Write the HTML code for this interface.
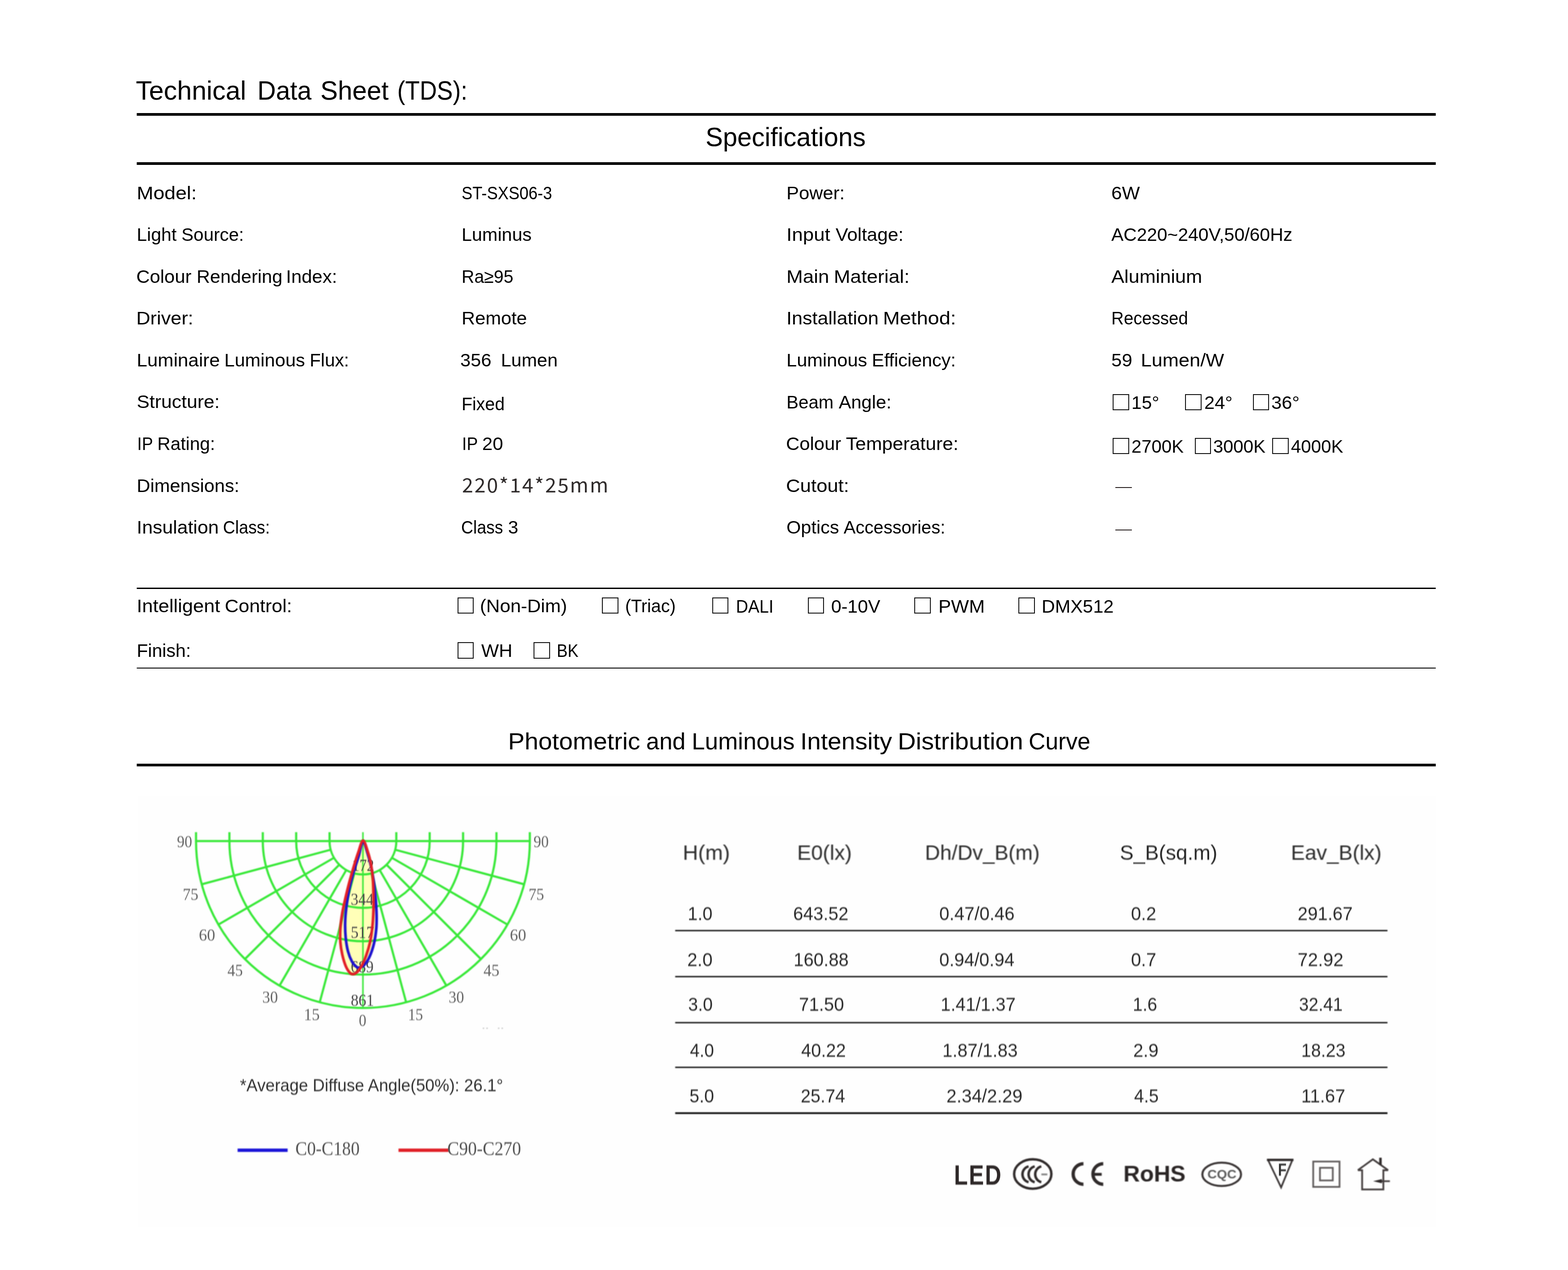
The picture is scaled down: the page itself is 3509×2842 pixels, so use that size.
<!DOCTYPE html>
<html lang="en"><head><meta charset="utf-8"><title>Technical Data Sheet (TDS)</title>
<style>
html,body{margin:0;padding:0;background:#fff;}
body{width:3509px;height:2842px;position:relative;overflow:hidden;font-family:"Liberation Sans",sans-serif;color:#000;}
.t{position:absolute;white-space:pre;line-height:1;transform-origin:0 0;margin:0;padding:0;}
.g{position:absolute;left:0;top:0;width:0;height:0;font-size:0;line-height:0;}
.s{font-family:"Liberation Serif",serif;}
.n{font-family:"Noto Sans CJK SC","Liberation Sans",sans-serif;}
.b{filter:blur(0.8px);}
.ln{position:absolute;background:#000;}
.cb{position:absolute;box-sizing:border-box;border:2.2px solid #111;}
#img{position:absolute;left:308px;top:1781px;width:2905px;height:964px;background:#fefefe;}
svg{position:absolute;left:0;top:0;}
</style></head><body>
<div id="img"></div>
<div class="ln" style="left:306.0px;top:253.0px;width:2907.0px;height:6.0px"></div>
<div class="ln" style="left:306.0px;top:363.0px;width:2907.0px;height:6.0px"></div>
<div class="ln" style="left:306.0px;top:1315.2px;width:2907.0px;height:2.6px"></div>
<div class="ln" style="left:306.0px;top:1493.7px;width:2907.0px;height:2.6px"></div>
<div class="ln" style="left:306.0px;top:1708.5px;width:2907.0px;height:6.0px"></div>
<div class="ln b" style="left:1511.3px;top:2080.6px;width:1593.5px;height:3.4px;background:#111"></div>
<div class="ln b" style="left:1511.3px;top:2183.6px;width:1593.5px;height:3.4px;background:#111"></div>
<div class="ln b" style="left:1511.3px;top:2286.6px;width:1593.5px;height:3.4px;background:#111"></div>
<div class="ln b" style="left:1511.3px;top:2386.8px;width:1593.5px;height:3.4px;background:#111"></div>
<div class="ln b" style="left:1511.3px;top:2489.4px;width:1593.5px;height:3.4px;background:#111"></div>
<div class="cb" style="left:2490.4px;top:882.4px;width:36.5px;height:35.4px"></div>
<div class="cb" style="left:2652.2px;top:882.4px;width:36.5px;height:35.4px"></div>
<div class="cb" style="left:2803.6px;top:882.4px;width:36.5px;height:35.4px"></div>
<div class="cb" style="left:2490.4px;top:979.9px;width:36.5px;height:35.7px"></div>
<div class="cb" style="left:2673.6px;top:979.9px;width:36.5px;height:35.7px"></div>
<div class="cb" style="left:2847.2px;top:979.9px;width:36.5px;height:35.7px"></div>
<div class="cb" style="left:1023.5px;top:1337.3px;width:36.5px;height:35.7px"></div>
<div class="cb" style="left:1347.0px;top:1337.3px;width:36.5px;height:35.7px"></div>
<div class="cb" style="left:1593.5px;top:1337.3px;width:36.5px;height:35.7px"></div>
<div class="cb" style="left:1807.5px;top:1337.3px;width:36.5px;height:35.7px"></div>
<div class="cb" style="left:2046.1px;top:1337.3px;width:36.5px;height:35.7px"></div>
<div class="cb" style="left:2279.2px;top:1337.3px;width:36.5px;height:35.7px"></div>
<div class="cb" style="left:1023.5px;top:1437.4px;width:36.5px;height:36.5px"></div>
<div class="cb" style="left:1194.0px;top:1437.4px;width:36.5px;height:36.5px"></div>
<div class="ln" style="left:2496.0px;top:1089.8px;width:37.2px;height:2.4px;background:#2a2222"></div>
<div class="ln" style="left:2496.0px;top:1185.1px;width:37.2px;height:2.4px;background:#2a2222"></div>
<svg width="2920" height="970" viewBox="300 1780 2920 970" style="left:300px;top:1780px;filter:blur(0.8px)">
<path d="M812.4,1880.9C808.8,1881.3 804.8,1899.1 801.5,1908.3C798.2,1917.5 795.8,1925.6 792.6,1936.2C789.5,1946.7 785.7,1959.8 782.5,1971.6C779.3,1983.5 776.4,1995.3 773.6,2007.1C770.9,2018.9 768.0,2030.8 766.0,2042.6C764.0,2054.4 762.4,2067.1 761.7,2078.1C761.0,2089.1 761.0,2098.8 761.7,2108.5C762.4,2118.2 764.0,2127.5 766.0,2136.4C768.0,2145.2 770.9,2155.0 773.6,2161.7C776.4,2168.4 779.8,2173.4 782.5,2176.4C785.2,2179.4 787.4,2180.1 790.1,2180.0C792.8,2179.8 795.8,2178.7 799.0,2175.6C802.1,2172.6 805.7,2167.8 809.1,2161.7C812.5,2155.6 816.1,2147.8 819.2,2138.9C822.4,2130.0 825.7,2119.5 828.1,2108.5C830.5,2097.5 832.2,2084.8 833.4,2073.0C834.7,2061.2 835.3,2049.4 835.7,2037.5C836.1,2025.7 835.9,2013.5 835.7,2002.1C835.5,1990.6 835.3,1980.1 834.5,1969.1C833.6,1958.1 832.5,1946.7 830.6,1936.2C828.7,1925.6 826.1,1915.0 823.0,1905.8C820.0,1896.5 816.0,1880.5 812.4,1880.9Z" fill="#ffffb8" stroke="none"/>
<path d="M812.4,1884.2C808.8,1884.2 806.3,1904.7 802.8,1915.9C799.3,1927.1 795.0,1938.7 791.4,1951.4C787.8,1964.0 784.0,1978.4 781.2,1991.9C778.5,2005.4 776.4,2020.2 774.9,2032.5C773.4,2044.7 772.6,2054.4 772.4,2065.4C772.2,2076.4 772.6,2087.8 773.6,2098.4C774.7,2108.9 776.4,2119.9 778.7,2128.8C781.0,2137.6 784.4,2145.7 787.6,2151.6C790.7,2157.4 795.0,2161.5 797.7,2163.7C800.4,2166.0 801.3,2165.6 804.0,2165.0C806.8,2164.5 810.4,2164.4 814.2,2160.4C818.0,2156.5 823.0,2149.7 826.8,2141.4C830.6,2133.2 834.5,2121.6 837.0,2111.0C839.5,2100.5 841.1,2088.6 842.1,2078.1C843.0,2067.5 843.0,2058.7 842.8,2047.7C842.6,2036.7 841.8,2024.0 840.8,2012.2C839.8,2000.4 838.5,1987.7 837.0,1976.7C835.5,1965.7 834.0,1956.4 831.9,1946.3C829.8,1936.2 827.6,1926.2 824.3,1915.9C821.1,1905.5 816.0,1884.2 812.4,1884.2Z" fill="#ffffb8" stroke="none"/>
<g fill="none" stroke="#38e838" stroke-width="4.8" stroke-linecap="butt">
<path d="M436.7,1882.2H1187.7"/>
<path d="M737.5,1862.2V1882.2A74.7,74.7 0 0 0 886.9,1882.2V1862.2"/>
<path d="M662.8,1862.2V1882.2A149.4,149.4 0 0 0 961.6,1882.2V1862.2"/>
<path d="M588.1,1862.2V1882.2A224.1,224.1 0 0 0 1036.3,1882.2V1862.2"/>
<path d="M513.4,1862.2V1882.2A298.8,298.8 0 0 0 1111.0,1882.2V1862.2"/>
<path d="M438.7,1862.2V1882.2A373.5,373.5 0 0 0 1185.7,1882.2V1862.2"/>
<path d="M792.9,1954.4L715.5,2243.0"/>
<path d="M831.5,1954.4L908.9,2243.0"/>
<path d="M774.9,1946.9L625.5,2205.7"/>
<path d="M849.6,1946.9L999.0,2205.7"/>
<path d="M759.4,1935.0L548.1,2146.3"/>
<path d="M865.0,1935.0L1076.3,2146.3"/>
<path d="M747.5,1919.5L488.7,2069.0"/>
<path d="M876.9,1919.5L1135.7,2069.0"/>
<path d="M740.0,1901.5L451.4,1978.9"/>
<path d="M884.4,1901.5L1173.0,1978.9"/>
<path d="M812.2,1862.2V2256.7" stroke-width="3.4"/>
</g>
<path d="M531.7,2574H643.7" stroke="#1a14d8" stroke-width="7.5" stroke-linecap="butt" fill="none"/>
<path d="M891.8,2574H1004.4" stroke="#e01f26" stroke-width="7.5" stroke-linecap="butt" fill="none"/>
<g fill="#bbb"><circle cx="1082" cy="2301" r="1.6"/><circle cx="1090" cy="2301" r="1.6"/><circle cx="1116" cy="2301" r="1.6"/><circle cx="1124" cy="2301" r="1.6"/></g>
<g fill="none" stroke="#2f2a2a">
<ellipse cx="2311.2" cy="2627.2" rx="41.7" ry="32.9" stroke-width="5.4"/>
<path d="M2301.8,2610.1A18.3,18.3 0 0 0 2301.8,2645.5" stroke-width="5.6"/>
<path d="M2315.5,2610.1A18.3,18.3 0 0 0 2315.5,2645.5" stroke-width="5.6"/>
<path d="M2330.3,2610.1A18.3,18.3 0 0 0 2330.3,2645.5" stroke-width="5.6"/>
<path d="M2330.4,2628.1H2343.8" stroke-width="4.2" stroke="#8a8a8a"/>
<path d="M2424.6,2604.2A23.0,23.0 0 0 0 2424.6,2650.2" stroke-width="7.4"/>
<path d="M2468.9,2604.2A23.0,23.0 0 0 0 2468.9,2650.2" stroke-width="7.4"/>
<path d="M2447.0,2627.9H2465.5" stroke-width="6.4"/>
<ellipse cx="2734.0" cy="2627.9" rx="43.3" ry="26.1" stroke-width="4.6" stroke="#3a3535"/>
<path d="M2837.7,2595.7L2867.0,2657.2L2892.2,2595.7" stroke-width="3.8" stroke-linejoin="miter" stroke="#3a3535"/>
<path d="M2835.2,2595.7H2894.7" stroke-width="5.2"/>
<rect x="2938.8" y="2599.3" width="58.9" height="56.7" stroke-width="3.8" stroke="#5e5a5a"/>
<rect x="2953.9" y="2613.3" width="28.7" height="28.3" stroke-width="3.8" stroke="#5e5a5a"/>
<path d="M3038.7,2618.7L3072.3,2594.3L3106.5,2618.7" stroke-width="4.0" stroke-linejoin="miter" stroke="#453f3f"/>
<path d="M3038.7,2618.7H3048.3V2661.8H3095.8V2618.7H3106.5" stroke-width="4.0" stroke="#453f3f"/>
<path d="M3089.3,2590.7V2606.9" stroke-width="5.6"/>
<path d="M3110.4,2643.3H3084.6" stroke-width="3.8" stroke="#453f3f"/>
<path d="M3072.9,2643.3L3092.5,2638.6L3092.5,2648.0Z" fill="#2f2a2a" stroke="none"/>
</g>
</svg>
<div class="g"><span class="t" style="left:304.00px;top:173.00px;font-size:59.3px;transform:scaleX(0.9992);">Technical</span> <span class="t" style="left:575.80px;top:173.00px;font-size:59.3px;transform:scaleX(0.9667);">Data</span> <span class="t" style="left:716.88px;top:173.00px;font-size:59.3px;transform:scaleX(0.9849);">Sheet</span> <span class="t" style="left:889.18px;top:173.00px;font-size:59.3px;transform:scaleX(0.8994);">(TDS):</span></div>
<div class="t" style="left:1579.10px;top:277.65px;font-size:58.3px;transform:scaleX(0.9961);">Specifications</div>
<div class="g"><span class="t" style="left:305.90px;top:411.62px;font-size:41.2px;transform:scaleX(1.0855);">Model:</span></div>
<div class="g"><span class="t" style="left:305.90px;top:505.22px;font-size:41.2px;">Light</span> <span class="t" style="left:405.90px;top:505.22px;font-size:41.2px;transform:scaleX(0.9853);">Source:</span></div>
<div class="g"><span class="t" style="left:304.90px;top:598.82px;font-size:41.2px;transform:scaleX(1.0168);">Colour</span> <span class="t" style="left:439.90px;top:598.82px;font-size:41.2px;transform:scaleX(1.0108);">Rendering</span> <span class="t" style="left:639.90px;top:598.82px;font-size:41.2px;transform:scaleX(1.0193);">Index:</span></div>
<div class="g"><span class="t" style="left:304.90px;top:692.42px;font-size:41.2px;transform:scaleX(1.0526);">Driver:</span></div>
<div class="g"><span class="t" style="left:305.90px;top:786.02px;font-size:41.2px;transform:scaleX(1.0284);">Luminaire</span> <span class="t" style="left:501.90px;top:786.02px;font-size:41.2px;transform:scaleX(1.0115);">Luminous</span> <span class="t" style="left:692.90px;top:786.02px;font-size:41.2px;transform:scaleX(0.9878);">Flux:</span></div>
<div class="g"><span class="t" style="left:305.90px;top:878.62px;font-size:41.2px;transform:scaleX(1.0405);">Structure:</span></div>
<div class="g"><span class="t" style="left:306.90px;top:973.22px;font-size:41.2px;transform:scaleX(0.9091);">IP</span> <span class="t" style="left:351.90px;top:973.22px;font-size:41.2px;transform:scaleX(0.9919);">Rating:</span></div>
<div class="g"><span class="t" style="left:305.90px;top:1066.82px;font-size:41.2px;transform:scaleX(1.0136);">Dimensions:</span></div>
<div class="g"><span class="t" style="left:305.90px;top:1160.42px;font-size:41.2px;transform:scaleX(1.0412);">Insulation</span> <span class="t" style="left:498.90px;top:1160.42px;font-size:41.2px;transform:scaleX(0.9174);">Class:</span></div>
<div class="g"><span class="t" style="left:1033.10px;top:411.62px;font-size:41.2px;transform:scaleX(0.8844);">ST-SXS06-3</span></div>
<div class="g"><span class="t" style="left:1033.10px;top:505.22px;font-size:41.2px;transform:scaleX(1.0066);">Luminus</span></div>
<div class="g"><span class="t" style="left:1033.10px;top:598.82px;font-size:41.2px;transform:scaleX(0.9569);">Ra≥95</span></div>
<div class="g"><span class="t" style="left:1033.10px;top:692.42px;font-size:41.2px;transform:scaleX(1.0144);">Remote</span></div>
<div class="g"><span class="t" style="left:1030.20px;top:786.02px;font-size:41.2px;transform:scaleX(1.0154);">356</span> <span class="t" style="left:1121.20px;top:786.02px;font-size:41.2px;transform:scaleX(1.0083);">Lumen</span></div>
<div class="g"><span class="t" style="left:1033.10px;top:883.62px;font-size:41.2px;transform:scaleX(0.9579);">Fixed</span></div>
<div class="g"><span class="t" style="left:1034.10px;top:973.22px;font-size:41.2px;transform:scaleX(0.9091);">IP</span> <span class="t" style="left:1079.10px;top:973.22px;font-size:41.2px;transform:scaleX(1.0238);">20</span></div>
<div class="g"><span class="t" style="left:1032.10px;top:1160.42px;font-size:41.2px;transform:scaleX(0.9101);">Class</span> <span class="t" style="left:1137.10px;top:1160.42px;font-size:41.2px;">3</span></div>
<div class="t n" style="left:1033.70px;top:1060.62px;font-size:44px;transform:scaleX(1.0213);color:#2f2b2b;letter-spacing:2.7px;">220*14*25mm</div>
<div class="g"><span class="t" style="left:1759.90px;top:411.62px;font-size:41.2px;transform:scaleX(1.0166);">Power:</span></div>
<div class="g"><span class="t" style="left:1759.90px;top:505.22px;font-size:41.2px;transform:scaleX(1.0691);">Input</span> <span class="t" style="left:1869.90px;top:505.22px;font-size:41.2px;transform:scaleX(1.0207);">Voltage:</span></div>
<div class="g"><span class="t" style="left:1759.90px;top:598.82px;font-size:41.2px;transform:scaleX(1.0716);">Main</span> <span class="t" style="left:1865.90px;top:598.82px;font-size:41.2px;transform:scaleX(1.0728);">Material:</span></div>
<div class="g"><span class="t" style="left:1759.90px;top:692.42px;font-size:41.2px;transform:scaleX(1.0474);">Installation</span> <span class="t" style="left:1975.90px;top:692.42px;font-size:41.2px;transform:scaleX(1.0986);">Method:</span></div>
<div class="g"><span class="t" style="left:1759.90px;top:786.02px;font-size:41.2px;transform:scaleX(1.0115);">Luminous</span> <span class="t" style="left:1950.90px;top:786.02px;font-size:41.2px;transform:scaleX(1.0056);">Efficiency:</span></div>
<div class="g"><span class="t" style="left:1759.90px;top:879.62px;font-size:41.2px;transform:scaleX(0.9804);">Beam</span> <span class="t" style="left:1876.90px;top:879.62px;font-size:41.2px;transform:scaleX(1.0088);">Angle:</span></div>
<div class="g"><span class="t" style="left:1758.90px;top:973.22px;font-size:41.2px;transform:scaleX(1.0168);">Colour</span> <span class="t" style="left:1892.90px;top:973.22px;font-size:41.2px;transform:scaleX(1.0378);">Temperature:</span></div>
<div class="g"><span class="t" style="left:1758.90px;top:1066.82px;font-size:41.2px;transform:scaleX(1.0630);">Cutout:</span></div>
<div class="g"><span class="t" style="left:1759.90px;top:1160.42px;font-size:41.2px;transform:scaleX(1.0088);">Optics</span> <span class="t" style="left:1887.90px;top:1160.42px;font-size:41.2px;transform:scaleX(0.9739);">Accessories:</span></div>
<div class="g"><span class="t" style="left:2487.40px;top:411.62px;font-size:41.2px;transform:scaleX(1.0333);">6W</span></div>
<div class="g"><span class="t" style="left:2487.40px;top:505.22px;font-size:41.2px;transform:scaleX(0.9951);">AC220~240V,50/60Hz</span></div>
<div class="g"><span class="t" style="left:2487.40px;top:598.82px;font-size:41.2px;transform:scaleX(1.0579);">Aluminium</span></div>
<div class="g"><span class="t" style="left:2487.40px;top:692.42px;font-size:41.2px;transform:scaleX(0.9382);">Recessed</span></div>
<div class="g"><span class="t" style="left:2487.40px;top:786.02px;font-size:41.2px;transform:scaleX(1.0238);">59</span> <span class="t" style="left:2553.40px;top:786.02px;font-size:41.2px;transform:scaleX(1.0578);">Lumen/W</span></div>
<div class="g"><span class="t" style="left:2532.00px;top:880.62px;font-size:41.2px;">15°</span></div>
<div class="g"><span class="t" style="left:2694.80px;top:880.62px;font-size:41.2px;transform:scaleX(1.0172);">24°</span></div>
<div class="g"><span class="t" style="left:2845.40px;top:880.62px;font-size:41.2px;transform:scaleX(1.0172);">36°</span></div>
<div class="g"><span class="t" style="left:2532.40px;top:978.72px;font-size:41.2px;transform:scaleX(0.9828);">2700K</span></div>
<div class="g"><span class="t" style="left:2715.40px;top:978.72px;font-size:41.2px;transform:scaleX(0.9828);">3000K</span></div>
<div class="g"><span class="t" style="left:2888.60px;top:978.72px;font-size:41.2px;transform:scaleX(0.9829);">4000K</span></div>
<div class="g"><span class="t" style="left:305.90px;top:1336.22px;font-size:41.2px;transform:scaleX(1.0581);">Intelligent</span> <span class="t" style="left:502.90px;top:1336.22px;font-size:41.2px;transform:scaleX(1.0435);">Control:</span></div>
<div class="g"><span class="t" style="left:1074.00px;top:1336.22px;font-size:41.2px;transform:scaleX(1.0272);">(Non-Dim)</span></div>
<div class="g"><span class="t" style="left:1399.30px;top:1336.22px;font-size:41.2px;transform:scaleX(0.9644);">(Triac)</span></div>
<div class="g"><span class="t" style="left:1646.80px;top:1336.52px;font-size:41.2px;transform:scaleX(0.9176);">DALI</span></div>
<div class="g"><span class="t" style="left:1860.00px;top:1336.52px;font-size:41.2px;">0-10V</span></div>
<div class="g"><span class="t" style="left:2100.10px;top:1336.52px;font-size:41.2px;transform:scaleX(1.0319);">PWM</span></div>
<div class="g"><span class="t" style="left:2331.10px;top:1336.52px;font-size:41.2px;transform:scaleX(1.0065);">DMX512</span></div>
<div class="g"><span class="t" style="left:305.90px;top:1436.12px;font-size:41.2px;">Finish:</span></div>
<div class="g"><span class="t" style="left:1077.10px;top:1436.12px;font-size:41.2px;transform:scaleX(1.0154);">WH</span></div>
<div class="g"><span class="t" style="left:1246.00px;top:1436.12px;font-size:41.2px;transform:scaleX(0.8824);">BK</span></div>
<div class="g"><span class="t" style="left:1136.80px;top:1634.03px;font-size:51px;transform:scaleX(1.0865);">Photometric</span> <span class="t" style="left:1445.80px;top:1634.03px;font-size:51px;transform:scaleX(1.0375);">and</span> <span class="t" style="left:1547.80px;top:1634.03px;font-size:51px;transform:scaleX(1.0419);">Luminous</span> <span class="t" style="left:1790.80px;top:1634.03px;font-size:51px;transform:scaleX(1.0811);">Intensity</span> <span class="t" style="left:2008.80px;top:1634.03px;font-size:51px;transform:scaleX(1.1008);">Distribution</span> <span class="t" style="left:2301.80px;top:1634.03px;font-size:51px;transform:scaleX(1.0153);">Curve</span></div>
<div class="t b" style="left:1527.92px;top:1885.07px;font-size:46.5px;transform:scaleX(1.0218);color:#2a2a2a;">H(m)</div>
<div class="t b" style="left:1784.04px;top:1885.07px;font-size:46.5px;transform:scaleX(1.0085);color:#2a2a2a;">E0(lx)</div>
<div class="t b" style="left:2070.31px;top:1885.07px;font-size:46.5px;transform:scaleX(1.0039);color:#2a2a2a;">Dh/Dv_B(m)</div>
<div class="t b" style="left:2505.53px;top:1885.07px;font-size:46.5px;transform:scaleX(0.9938);color:#2a2a2a;">S_B(sq.m)</div>
<div class="t b" style="left:2888.88px;top:1885.07px;font-size:46.5px;transform:scaleX(1.0064);color:#2a2a2a;">Eav_B(lx)</div>
<div class="t b" style="left:1538.83px;top:2023.16px;font-size:43px;transform:scaleX(0.9257);color:#2c2c2c;">1.0</div>
<div class="t b" style="left:1774.91px;top:2023.16px;font-size:43px;transform:scaleX(0.9405);color:#2c2c2c;">643.52</div>
<div class="t b" style="left:2102.35px;top:2023.16px;font-size:43px;transform:scaleX(0.9401);color:#2c2c2c;">0.47/0.46</div>
<div class="t b" style="left:2531.37px;top:2023.16px;font-size:43px;transform:scaleX(0.9457);color:#2c2c2c;">0.2</div>
<div class="t b" style="left:2904.12px;top:2023.16px;font-size:43px;transform:scaleX(0.9364);color:#2c2c2c;">291.67</div>
<div class="t b" style="left:1538.13px;top:2125.59px;font-size:43px;transform:scaleX(0.9457);color:#2c2c2c;">2.0</div>
<div class="t b" style="left:1775.61px;top:2125.59px;font-size:43px;transform:scaleX(0.9365);color:#2c2c2c;">160.88</div>
<div class="t b" style="left:2102.33px;top:2125.59px;font-size:43px;transform:scaleX(0.9371);color:#2c2c2c;">0.94/0.94</div>
<div class="t b" style="left:2531.37px;top:2125.59px;font-size:43px;transform:scaleX(0.9457);color:#2c2c2c;">0.7</div>
<div class="t b" style="left:2904.12px;top:2125.59px;font-size:43px;transform:scaleX(0.9516);color:#2c2c2c;">72.92</div>
<div class="t b" style="left:1539.84px;top:2226.34px;font-size:43px;transform:scaleX(0.9185);color:#2c2c2c;">3.0</div>
<div class="t b" style="left:1788.34px;top:2226.34px;font-size:43px;transform:scaleX(0.9369);color:#2c2c2c;">71.50</div>
<div class="t b" style="left:2104.68px;top:2226.34px;font-size:43px;transform:scaleX(0.9362);color:#2c2c2c;">1.41/1.37</div>
<div class="t b" style="left:2534.54px;top:2226.34px;font-size:43px;transform:scaleX(0.9163);color:#2c2c2c;">1.6</div>
<div class="t b" style="left:2906.64px;top:2226.34px;font-size:43px;transform:scaleX(0.9074);color:#2c2c2c;">32.41</div>
<div class="t b" style="left:1544.19px;top:2328.76px;font-size:43px;transform:scaleX(0.9024);color:#2c2c2c;">4.0</div>
<div class="t b" style="left:1792.70px;top:2328.76px;font-size:43px;transform:scaleX(0.9280);color:#2c2c2c;">40.22</div>
<div class="t b" style="left:2108.89px;top:2328.76px;font-size:43px;transform:scaleX(0.9396);color:#2c2c2c;">1.87/1.83</div>
<div class="t b" style="left:2536.40px;top:2328.76px;font-size:43px;transform:scaleX(0.9457);color:#2c2c2c;">2.9</div>
<div class="t b" style="left:2911.53px;top:2328.76px;font-size:43px;transform:scaleX(0.9213);color:#2c2c2c;">18.23</div>
<div class="t b" style="left:1543.20px;top:2431.19px;font-size:43px;transform:scaleX(0.9185);color:#2c2c2c;">5.0</div>
<div class="t b" style="left:1791.69px;top:2431.19px;font-size:43px;transform:scaleX(0.9224);color:#2c2c2c;">25.74</div>
<div class="t b" style="left:2118.29px;top:2431.19px;font-size:43px;transform:scaleX(0.9484);color:#2c2c2c;">2.34/2.29</div>
<div class="t b" style="left:2538.21px;top:2431.19px;font-size:43px;transform:scaleX(0.9201);color:#2c2c2c;">4.5</div>
<div class="t b" style="left:2911.52px;top:2431.19px;font-size:43px;transform:scaleX(0.9431);color:#2c2c2c;">11.67</div>
<div class="t s b" style="left:396.25px;top:1864.99px;font-size:37px;transform:scaleX(0.9171);color:#666;">90</div>
<div class="t s b" style="left:1194.49px;top:1864.99px;font-size:37px;transform:scaleX(0.9171);color:#666;">90</div>
<div class="t s b" style="left:409.30px;top:1982.52px;font-size:37px;transform:scaleX(0.9441);color:#666;">75</div>
<div class="t s b" style="left:1182.63px;top:1982.52px;font-size:37px;transform:scaleX(0.9380);color:#666;">75</div>
<div class="t s b" style="left:445.33px;top:2073.98px;font-size:37px;transform:scaleX(0.9917);color:#666;">60</div>
<div class="t s b" style="left:1141.28px;top:2073.98px;font-size:37px;transform:scaleX(0.9917);color:#666;">60</div>
<div class="t s b" style="left:508.57px;top:2153.00px;font-size:37px;transform:scaleX(0.9286);color:#666;">45</div>
<div class="t s b" style="left:1082.14px;top:2153.00px;font-size:37px;transform:scaleX(0.9634);color:#666;">45</div>
<div class="t s b" style="left:586.60px;top:2213.17px;font-size:37px;transform:scaleX(0.9441);color:#666;">30</div>
<div class="t s b" style="left:1003.76px;top:2213.17px;font-size:37px;transform:scaleX(0.9325);color:#666;">30</div>
<div class="t s b" style="left:679.85px;top:2252.48px;font-size:37px;transform:scaleX(0.9607);color:#666;">15</div>
<div class="t s b" style="left:912.93px;top:2252.48px;font-size:37px;transform:scaleX(0.9116);color:#666;">15</div>
<div class="t s b" style="left:803.40px;top:2265.32px;font-size:37px;transform:scaleX(0.9093);color:#666;">0</div>
<div class="t s b" style="left:785.34px;top:2220.39px;font-size:37px;transform:scaleX(0.9391);color:#4a4a4a;">861</div>
<div class="t s b" style="left:785.34px;top:2144.98px;font-size:37px;transform:scaleX(0.9203);color:#4a4a4a;">689</div>
<div class="t s b" style="left:785.14px;top:2067.56px;font-size:37px;transform:scaleX(0.9391);color:#4a4a4a;">517</div>
<div class="t s b" style="left:785.14px;top:1994.16px;font-size:37px;transform:scaleX(0.9213);color:#4a4a4a;">344</div>
<div class="t s b" style="left:788.14px;top:1917.94px;font-size:37px;transform:scaleX(0.8878);color:#4a4a4a;">172</div>
<div class="t b" style="left:536.50px;top:2410.28px;font-size:38.3px;transform:scaleX(0.9721);color:#333;">*Average Diffuse Angle(50%): 26.1°</div>
<div class="t s b" style="left:661.21px;top:2548.36px;font-size:45.3px;transform:scaleX(0.8654);color:#555;">C0-C180</div>
<div class="t s b" style="left:1000.80px;top:2548.36px;font-size:45.3px;transform:scaleX(0.8746);color:#555;">C90-C270</div>
<div class="t b" style="left:2135.01px;top:2598.09px;font-size:62.5px;transform:scaleX(0.8073);color:#2d2727;font-weight:700;letter-spacing:3px;">LED</div>
<div class="t b" style="left:2514.19px;top:2602.40px;font-size:50.8px;transform:scaleX(1.0068);color:#2a2525;font-weight:700;">RoHS</div>
<div class="t b" style="left:2702.20px;top:2614.10px;font-size:28px;transform:scaleX(1.0450);color:#5a5a5a;font-weight:700;">CQC</div>
<div class="t b" style="left:2859.57px;top:2599.33px;font-size:38px;transform:scaleX(0.8227);color:#333;font-weight:700;">F</div>
<svg width="280" height="480" viewBox="670 1830 280 480" style="left:670px;top:1830px;filter:blur(0.8px)">
<path d="M812.4,1884.2C808.8,1884.2 806.3,1904.7 802.8,1915.9C799.3,1927.1 795.0,1938.7 791.4,1951.4C787.8,1964.0 784.0,1978.4 781.2,1991.9C778.5,2005.4 776.4,2020.2 774.9,2032.5C773.4,2044.7 772.6,2054.4 772.4,2065.4C772.2,2076.4 772.6,2087.8 773.6,2098.4C774.7,2108.9 776.4,2119.9 778.7,2128.8C781.0,2137.6 784.4,2145.7 787.6,2151.6C790.7,2157.4 795.0,2161.5 797.7,2163.7C800.4,2166.0 801.3,2165.6 804.0,2165.0C806.8,2164.5 810.4,2164.4 814.2,2160.4C818.0,2156.5 823.0,2149.7 826.8,2141.4C830.6,2133.2 834.5,2121.6 837.0,2111.0C839.5,2100.5 841.1,2088.6 842.1,2078.1C843.0,2067.5 843.0,2058.7 842.8,2047.7C842.6,2036.7 841.8,2024.0 840.8,2012.2C839.8,2000.4 838.5,1987.7 837.0,1976.7C835.5,1965.7 834.0,1956.4 831.9,1946.3C829.8,1936.2 827.6,1926.2 824.3,1915.9C821.1,1905.5 816.0,1884.2 812.4,1884.2Z" fill="none" stroke="#1d12cf" stroke-width="6" stroke-linejoin="round"/>
<path d="M812.4,1880.9C808.8,1881.3 804.8,1899.1 801.5,1908.3C798.2,1917.5 795.8,1925.6 792.6,1936.2C789.5,1946.7 785.7,1959.8 782.5,1971.6C779.3,1983.5 776.4,1995.3 773.6,2007.1C770.9,2018.9 768.0,2030.8 766.0,2042.6C764.0,2054.4 762.4,2067.1 761.7,2078.1C761.0,2089.1 761.0,2098.8 761.7,2108.5C762.4,2118.2 764.0,2127.5 766.0,2136.4C768.0,2145.2 770.9,2155.0 773.6,2161.7C776.4,2168.4 779.8,2173.4 782.5,2176.4C785.2,2179.4 787.4,2180.1 790.1,2180.0C792.8,2179.8 795.8,2178.7 799.0,2175.6C802.1,2172.6 805.7,2167.8 809.1,2161.7C812.5,2155.6 816.1,2147.8 819.2,2138.9C822.4,2130.0 825.7,2119.5 828.1,2108.5C830.5,2097.5 832.2,2084.8 833.4,2073.0C834.7,2061.2 835.3,2049.4 835.7,2037.5C836.1,2025.7 835.9,2013.5 835.7,2002.1C835.5,1990.6 835.3,1980.1 834.5,1969.1C833.6,1958.1 832.5,1946.7 830.6,1936.2C828.7,1925.6 826.1,1915.0 823.0,1905.8C820.0,1896.5 816.0,1880.5 812.4,1880.9Z" fill="none" stroke="#e21f26" stroke-width="6" stroke-linejoin="round"/>
</svg>
</body></html>
